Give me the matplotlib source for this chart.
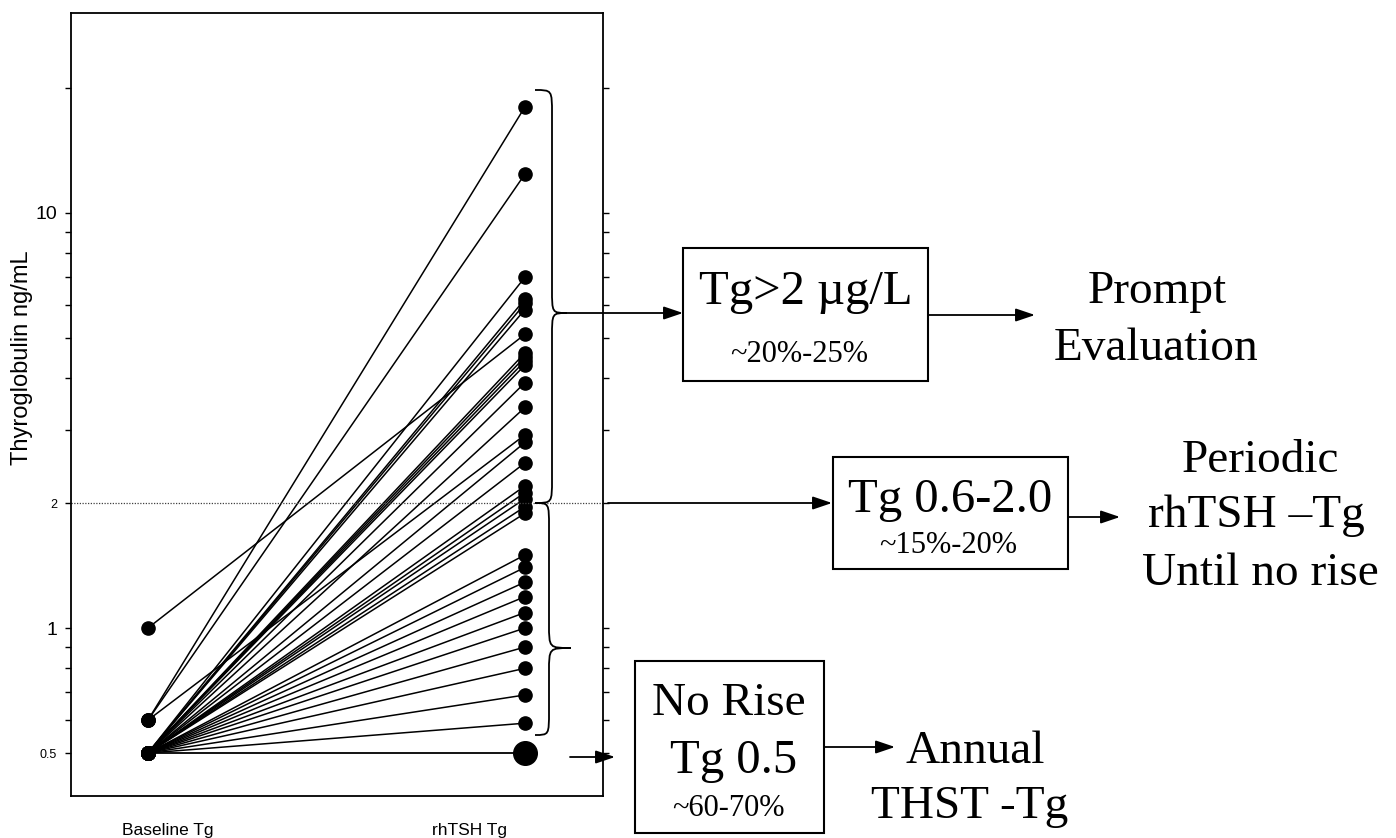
import matplotlib
matplotlib.use("Agg")
import matplotlib.pyplot as plt
from matplotlib.patches import Rectangle, PathPatch
from matplotlib.path import Path
from matplotlib.ticker import FixedLocator, NullFormatter

# data (ng/mL)
baseline_tg = [0.6, 0.6, 0.6, 1.0,
               0.5, 0.5, 0.5, 0.5, 0.5, 0.5, 0.5, 0.5, 0.5, 0.5,
               0.5, 0.5, 0.5, 0.5, 0.5, 0.5, 0.5, 0.5, 0.5, 0.5,
               0.5, 0.5, 0.5, 0.5, 0.5, 0.5, 0.5]
rhtsh_tg = [18.0, 12.4, 2.92, 5.1,
            7.0, 6.2, 6.05, 5.85, 4.6, 4.5, 4.4, 4.3, 3.9, 3.4,
            2.8, 2.5, 2.2, 2.12, 2.05, 1.96, 1.89, 1.5, 1.4, 1.29,
            1.19, 1.09, 1.0, 0.9, 0.8, 0.69, 0.59]
no_rise = 0.5
threshold = 2
ytick_vals = [0.5, 1, 2, 10]
ytick_txt = ["0.5", "1", "2", "10"]
ytick_size = [9, 14, 9, 14]
minor_vals = [0.6, 0.7, 0.8, 0.9, 3, 4, 5, 6, 7, 8, 9, 20]
xlabels = ["Baseline Tg", "rhTSH Tg"]

W, H = 1396, 838
fig = plt.figure(figsize=(W / 100, H / 100), dpi=100)
sans = ["Liberation Sans", "DejaVu Sans"]
serif = ["Liberation Serif", "DejaVu Serif"]

ax = fig.add_axes([71 / W, 1 - 796 / H, (603 - 71) / W, (796 - 13) / H])
ax.set_yscale("log")
ax.set_xlim(0.796, 2.207)
ax.set_ylim(0.394, 30.3)

for b, r in zip(baseline_tg, rhtsh_tg):
    ax.plot([1, 2], [b, r], color="black", lw=1.1, marker="o", ms=9.5,
            solid_capstyle="round")
ax.plot([1, 2], [no_rise, no_rise], color="black", lw=1.3)
ax.plot([1], [no_rise], "o", color="black", ms=9.5)
ax.plot([2], [no_rise], "o", color="black", ms=17)
ax.axhline(threshold, ls=(0, (1, 1.2)), lw=0.9, color="0.25")

ax.yaxis.set_major_locator(FixedLocator(ytick_vals))
ax.set_yticklabels(ytick_txt, family=sans)
for lbl, s in zip(ax.get_yticklabels(), ytick_size):
    lbl.set_fontsize(s)
ax.yaxis.set_minor_locator(FixedLocator(minor_vals))
ax.yaxis.set_minor_formatter(NullFormatter())
ax.tick_params(axis="y", which="both", direction="out", right=True,
               length=4, width=1, pad=6)

ax.set_xticks([1.053, 1.854])
ax.set_xticklabels(xlabels, family=sans, fontsize=12.5)
ax.tick_params(axis="x", length=0, pad=28)
for lbl in ax.get_xticklabels():
    lbl.set_va("baseline")

ax.set_ylabel("Thyroglobulin ng/mL", family=sans, fontsize=17)
ax.yaxis.set_label_coords(-0.071, 0.56)
for sp in ax.spines.values():
    sp.set_linewidth(1.3)

# overlay in pixel units for the flow chart part
lay = fig.add_axes([0, 0, 1, 1], zorder=5)
lay.set_xlim(0, W)
lay.set_ylim(H, 0)
lay.axis("off")
lay.patch.set_visible(False)


def brace(xe, xv, xt, ytop, ytip, ybot, d=24):
    verts = [(xe, ytop), (xv, ytop), (xv, ytop), (xv, ytop + d),
             (xv, ytip - d),
             (xv, ytip), (xv, ytip), (xt, ytip),
             (xv, ytip), (xv, ytip), (xv, ytip + d),
             (xv, ybot - d),
             (xv, ybot), (xv, ybot), (xe, ybot)]
    codes = [Path.MOVETO] + [Path.CURVE4] * 3 + [Path.LINETO] + \
        [Path.CURVE4] * 6 + [Path.LINETO] + [Path.CURVE4] * 3
    lay.add_patch(PathPatch(Path(verts, codes), fill=False, lw=1.3,
                            ec="black", clip_on=False))


def arrow(x0, x1, y):
    lay.annotate("", xy=(x1, y), xytext=(x0, y),
                 arrowprops=dict(arrowstyle="-|>,head_length=0.65,head_width=0.22",
                                 mutation_scale=18, lw=1.3, color="black",
                                 shrinkA=0, shrinkB=0))


def box(x0, y0, x1, y1):
    lay.add_patch(Rectangle((x0, y0), x1 - x0, y1 - y0, fill=False,
                            lw=1.5, ec="black"))


def txt(x, y, s, size):
    lay.text(x, y, s, ha="center", va="baseline", family=serif,
             fontsize=size, color="black")


brace(535, 552, 567, 90, 313, 503)
brace(535, 549, 571, 503, 648, 735)

# Tg > 2
arrow(567, 683, 313)
box(683, 248, 928, 381)
txt(806, 304, "Tg>2 µg/L", 35)
txt(799, 362, "~20%-25%", 22)
arrow(928, 1035, 315)
txt(1157, 303, "Prompt", 34)
txt(1156, 360, "Evaluation", 34)

# Tg 0.6 - 2.0
arrow(608, 832, 503)
box(833, 457, 1068, 569)
txt(950, 512, "Tg 0.6-2.0", 35)
txt(948, 553, "~15%-20%", 22)
arrow(1068, 1120, 517)
txt(1260, 472, "Periodic", 34)
txt(1256, 527, "rhTSH \u2013Tg", 34)
txt(1260, 585, "Until no rise", 34)

# no rise
arrow(570, 615, 757)
box(635, 661, 824, 833)
txt(729, 715, "No Rise", 34)
txt(734, 773, "Tg 0.5", 35)
txt(728, 816, "~60-70%", 22)
arrow(824, 895, 747)
txt(975, 763, "Annual", 34)
txt(970, 818, "THST -Tg", 34)

fig.savefig("out.png", dpi=100)
